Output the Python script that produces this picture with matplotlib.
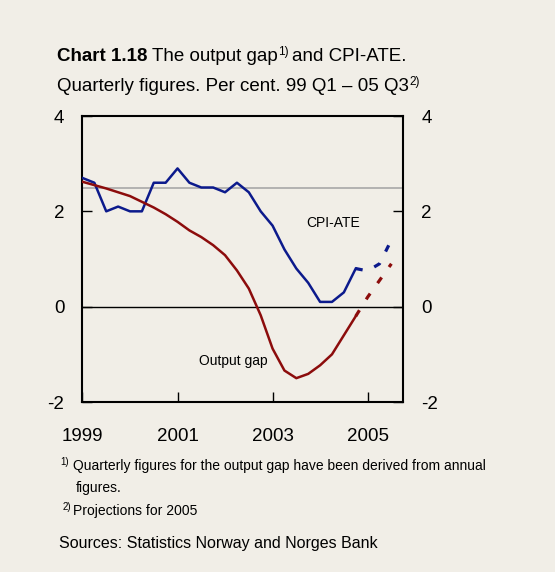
import matplotlib.pyplot as plt
import numpy as np

plt.rcParams['font.family'] = ['Liberation Sans', 'DejaVu Sans']
plt.rcParams['axes.unicode_minus'] = False

# quarters 1999 Q1 .. 2005 Q3
quarters = np.arange(27)
cpi_ate = [2.7, 2.6, 2.0, 2.1, 2.0, 2.0, 2.6, 2.6, 2.9, 2.6, 2.5, 2.5, 2.4, 2.6,
           2.4, 2.0, 1.7, 1.2, 0.8, 0.5, 0.1, 0.1, 0.3, 0.8, 0.75, 0.9, 1.4]
output_gap = [2.62, 2.55, 2.48, 2.40, 2.32, 2.2, 2.08, 1.94, 1.78, 1.6, 1.46, 1.29,
              1.08, 0.76, 0.38, -0.18, -0.88, -1.34, -1.5, -1.41, -1.23, -1.0,
              -0.6, -0.2, 0.2, 0.55, 0.9]
n_actual = 24  # up to 2004 Q4, then projections
year_ticks = [0, 8, 16, 24]
year_labels = ['1999', '2001', '2003', '2005']
target = 2.5

bg = '#f1eee7'
blue = '#0c1a8c'
red = '#8c0c0c'
W, H = 555, 572

fig = plt.figure(figsize=(W / 100, H / 100), dpi=100, facecolor=bg)
ax = fig.add_axes([0.1486, 0.2972, 0.578, 0.5])
ax.set_facecolor(bg)

ax.axhline(target, color='#a8a8a8', lw=1.2, zorder=1)
ax.axhline(0, color='black', lw=1.0, zorder=1)

ax.plot(quarters[:n_actual], cpi_ate[:n_actual], color=blue, lw=1.8, zorder=3)
ax.plot(quarters[n_actual-1:], cpi_ate[n_actual-1:], color=blue, lw=2.3,
        dashes=(2.2, 4), zorder=3)
ax.plot(quarters[:n_actual], output_gap[:n_actual], color=red, lw=1.8, zorder=3)
ax.plot(quarters[n_actual-1:], output_gap[n_actual-1:], color=red, lw=2.3,
        dashes=(2.2, 4), zorder=3)

ax.set_xlim(0, 27)
ax.set_ylim(-2, 4)
ax.set_yticks([-2, 0, 2, 4])
ax.set_xticks(year_ticks)
ax.set_xticklabels(year_labels)
ax.tick_params(axis='both', direction='in', length=7, width=1, labelsize=13.5,
               colors='black')
ax.tick_params(axis='y', right=True, labelright=True, pad=13)
ax.tick_params(axis='x', pad=19)
for s in ax.spines.values():
    s.set_linewidth(1.5)

ax.text(21.1, 1.76, 'CPI-ATE', fontsize=10, ha='center', va='center')
ax.text(12.7, -1.15, 'Output gap', fontsize=10, ha='center', va='center')


def put(x, y, s, size, gap=0, **kw):
    # place text at pixel x, baseline y (from top), return right edge in px
    t = fig.text((x + gap) / W, 1 - y / H, s, fontsize=size, va='baseline', **kw)
    fig.canvas.draw()
    return t.get_window_extent().x1


# title
x = put(57, 61, 'Chart 1.18', 13.5, weight='bold')
x = put(x, 61, 'The output gap', 13.5, gap=4)
x = put(x, 55, '1)', 8.5, gap=1)
put(x, 61, 'and CPI-ATE.', 13.5, gap=3)
x = put(57, 91, 'Quarterly figures. Per cent. 99 Q1 \u2013 05 Q3', 13.5)
put(x, 85, '2)', 8.5, gap=1)

# footnotes
put(60, 465, '1)', 7)
put(73, 470, 'Quarterly figures for the output gap have been derived from annual', 10)
put(76, 492, 'figures.', 10)
put(63, 510, '2)', 7)
put(73, 515, 'Projections for 2005', 10)
put(59, 548, 'Sources: Statistics Norway and Norges Bank', 11.5)

fig.savefig('out.png', dpi=100, facecolor=bg)
